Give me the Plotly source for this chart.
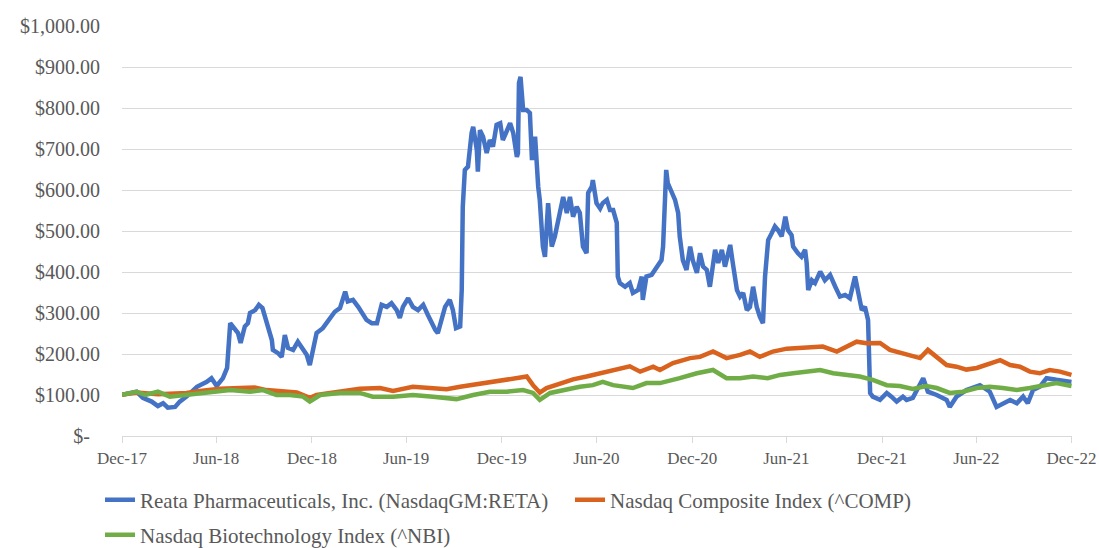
import plotly.graph_objects as go

# ---------------- data ----------------
reta_dates = [
    "2017-12-29","2018-01-28","2018-02-09","2018-02-26","2018-03-10","2018-03-20","2018-03-29",
    "2018-04-12","2018-04-21","2018-05-04","2018-05-24","2018-06-12","2018-06-21","2018-07-01",
    "2018-07-13","2018-07-21","2018-07-27","2018-08-05","2018-08-11","2018-08-16","2018-08-24",
    "2018-08-30","2018-09-03","2018-09-13","2018-09-20","2018-09-27","2018-10-05","2018-10-15",
    "2018-10-17","2018-10-27","2018-11-03","2018-11-09","2018-11-15","2018-11-25","2018-12-04",
    "2018-12-14","2018-12-21","2018-12-27","2019-01-02","2019-01-09","2019-01-21","2019-01-31",
    "2019-02-13","2019-02-23","2019-03-05","2019-03-10","2019-03-20","2019-03-30","2019-04-06",
    "2019-04-15","2019-04-25","2019-05-05","2019-05-14","2019-05-24","2019-06-02","2019-06-12",
    "2019-06-18","2019-06-24","2019-07-04","2019-07-13","2019-07-23","2019-08-02","2019-08-11",
    "2019-08-18","2019-08-25","2019-08-30","2019-09-06","2019-09-13","2019-09-22","2019-09-28",
    "2019-10-04","2019-10-12","2019-10-15","2019-10-17","2019-10-21","2019-10-27","2019-11-03",
    "2019-11-06","2019-11-13","2019-11-15","2019-11-19","2019-11-25","2019-12-02","2019-12-08",
    "2019-12-14","2019-12-21","2019-12-28","2020-01-02","2020-01-09","2020-01-16","2020-01-22",
    "2020-01-29","2020-01-31","2020-02-02","2020-02-05","2020-02-10","2020-02-17","2020-02-23",
    "2020-02-27","2020-03-04","2020-03-10","2020-03-13","2020-03-19","2020-03-23","2020-03-29",
    "2020-04-05","2020-04-11","2020-04-21","2020-04-27","2020-05-04","2020-05-10","2020-05-16",
    "2020-05-23","2020-05-29","2020-06-04","2020-06-11","2020-06-14","2020-06-21","2020-06-23",
    "2020-06-30","2020-07-07","2020-07-12","2020-07-20","2020-07-26","2020-08-01","2020-08-08",
    "2020-08-10","2020-08-14","2020-08-24","2020-09-02","2020-09-08","2020-09-18","2020-09-25",
    "2020-09-27","2020-10-04","2020-10-14","2020-10-20","2020-10-26","2020-11-02","2020-11-05",
    "2020-11-11","2020-11-14","2020-11-22","2020-11-28","2020-12-04","2020-12-07","2020-12-13",
    "2020-12-20","2020-12-27","2021-01-01","2021-01-09","2021-01-15","2021-01-21","2021-01-28",
    "2021-02-03","2021-02-13","2021-02-19","2021-02-26","2021-03-04","2021-03-14","2021-03-19",
    "2021-03-27","2021-04-02","2021-04-08","2021-04-15","2021-04-21","2021-04-27","2021-05-04",
    "2021-05-10","2021-05-16","2021-05-20","2021-05-26","2021-06-02","2021-06-08","2021-06-14",
    "2021-06-21","2021-06-28","2021-07-03","2021-07-10","2021-07-13","2021-07-22","2021-07-29",
    "2021-08-05","2021-08-08","2021-08-11","2021-08-18","2021-08-24","2021-09-03","2021-09-12",
    "2021-09-22","2021-10-02","2021-10-11","2021-10-21","2021-10-30","2021-11-09","2021-11-15",
    "2021-11-22","2021-11-28","2021-12-04","2021-12-08","2021-12-13","2021-12-27","2022-01-09",
    "2022-01-18","2022-01-28","2022-02-09","2022-02-16","2022-02-28","2022-03-14","2022-03-20",
    "2022-03-29","2022-04-15","2022-05-04","2022-05-10","2022-05-23","2022-06-11","2022-07-07",
    "2022-07-26","2022-08-08","2022-08-20","2022-09-03","2022-09-16","2022-09-28","2022-10-07",
    "2022-10-17","2022-10-30","2022-11-12","2022-12-01","2022-12-21","2022-12-30",
]
reta_values = [
    100, 108, 93, 84, 73, 80, 69,
    71, 84, 96, 120, 132, 141, 122,
    141, 166, 275, 259, 251, 227, 267,
    275, 300, 307, 320, 312, 275, 234,
    210, 202, 193, 246, 215, 210, 230,
    210, 198, 173, 206, 251, 263, 279,
    303, 312, 352, 328, 332, 315, 303,
    283, 275, 275, 320, 315, 324, 307,
    288, 315, 336, 315, 307, 320, 295,
    275, 259, 251, 283, 315, 332, 307,
    263, 267, 356, 559, 649, 657, 739,
    754, 698, 645, 746, 730, 690, 722,
    706, 759, 763, 722, 742, 763, 739,
    681, 690, 861, 876, 795, 795, 788,
    673, 730, 608, 576, 462, 437, 568,
    462, 487, 544, 583, 544, 583, 535,
    559, 544, 462, 446, 593, 608, 624,
    568, 555, 568, 576, 551, 551, 520,
    389, 373, 364, 373, 349, 356, 389,
    332, 389, 393, 405, 417, 429, 462,
    649, 617, 593, 576, 544, 487, 429,
    405, 462, 429, 398, 446, 413, 405,
    364, 454, 422, 454, 413, 466, 422,
    356, 340, 349, 307, 315, 364, 315,
    291, 275, 389, 478, 495, 511, 502,
    487, 535, 502, 490, 462, 446, 437,
    454, 422, 356, 380, 373, 401, 380,
    393, 364, 340, 344, 336, 389, 349,
    307, 315, 283, 105, 96, 88, 105,
    96, 84, 96, 88, 93, 129, 141,
    108, 100, 88, 71, 96, 112, 124,
    108, 71, 80, 88, 80, 96, 80,
    112, 120, 141, 137, 132, 132,
]

comp_dates = [
    "2017-12-29","2018-01-28","2018-03-10","2018-04-08","2018-05-04","2018-05-30","2018-07-07",
    "2018-08-15","2018-09-12","2018-10-05","2018-11-06","2018-12-02","2018-12-27","2019-01-09",
    "2019-02-04","2019-02-23","2019-04-02","2019-05-11","2019-06-05","2019-07-13","2019-08-21",
    "2019-09-16","2019-10-12","2019-11-06","2019-11-19","2019-12-08","2020-01-09","2020-02-04",
    "2020-02-17","2020-02-29","2020-03-13","2020-03-26","2020-04-21","2020-05-16","2020-06-11",
    "2020-07-07","2020-08-01","2020-09-02","2020-09-22","2020-10-17","2020-10-30","2020-11-24",
    "2020-12-27","2021-01-15","2021-02-09","2021-03-07","2021-04-02","2021-04-21","2021-05-10",
    "2021-06-04","2021-07-01","2021-07-26","2021-08-20","2021-09-08","2021-10-05","2021-11-12",
    "2021-12-01","2021-12-27","2022-01-15","2022-02-03","2022-02-22","2022-03-14","2022-03-29",
    "2022-04-15","2022-05-04","2022-05-23","2022-06-11","2022-07-01","2022-07-26","2022-08-15",
    "2022-09-03","2022-09-22","2022-10-11","2022-10-30","2022-11-18","2022-12-08","2022-12-30",
]
comp_values = [
    100, 106, 102, 103, 105, 110, 115,
    117, 118, 112, 108, 106, 93, 100,
    105, 108, 115, 117, 110, 120, 116,
    114, 120, 125, 126, 132, 137, 141,
    145, 124, 106, 117, 128, 138, 145,
    153, 161, 170, 157, 169, 161, 178,
    190, 193, 206, 190, 198, 206, 193,
    206, 213, 215, 215, 218, 206, 230,
    226, 227, 210, 203, 198, 190, 210,
    193, 173, 169, 162, 166, 178, 185,
    173, 169, 157, 153, 161, 157, 149,
]

nbi_dates = [
    "2017-12-29","2018-01-28","2018-02-14","2018-03-10","2018-04-02","2018-05-04","2018-06-18",
    "2018-07-27","2018-09-03","2018-09-28","2018-10-24","2018-11-19","2018-12-14","2018-12-27",
    "2019-01-16","2019-02-23","2019-04-02","2019-04-27","2019-06-05","2019-07-13","2019-08-21",
    "2019-10-05","2019-11-06","2019-12-08","2020-01-09","2020-02-10","2020-02-29","2020-03-13",
    "2020-04-02","2020-04-27","2020-05-29","2020-06-23","2020-07-12","2020-08-01","2020-09-08",
    "2020-10-04","2020-10-30","2020-12-07","2021-01-09","2021-02-09","2021-03-07","2021-04-02",
    "2021-04-27","2021-05-25","2021-06-18","2021-07-13","2021-08-08","2021-09-03","2021-09-28",
    "2021-10-24","2021-11-18","2021-12-13","2022-01-09","2022-02-03","2022-02-28","2022-03-26",
    "2022-04-15","2022-05-10","2022-06-04","2022-07-01","2022-07-26","2022-08-20","2022-09-16",
    "2022-10-11","2022-11-05","2022-12-01","2022-12-30",
]
nbi_values = [
    100, 108, 100, 108, 96, 100, 105,
    112, 108, 112, 100, 100, 96, 84,
    100, 105, 105, 96, 96, 100, 96,
    90, 100, 108, 108, 112, 105, 88,
    105, 112, 120, 124, 132, 124, 117,
    129, 129, 141, 153, 161, 141, 141,
    145, 141, 149, 153, 157, 161, 153,
    149, 145, 137, 124, 122, 115, 122,
    117, 105, 108, 117, 120, 117, 112,
    117, 124, 129, 122,
]

series_names = [
    "Reata Pharmaceuticals, Inc. (NasdaqGM:RETA)",
    "Nasdaq Composite Index (^COMP)",
    "Nasdaq Biotechnology Index (^NBI)",
]
series_colors = ["#4472C4", "#D9631E", "#70AD47"]

x_tick_vals = ["2017-12-31", "2018-06-30", "2018-12-31", "2019-06-30", "2019-12-31",
               "2020-06-30", "2020-12-31", "2021-06-30", "2021-12-31", "2022-06-30",
               "2022-12-30"]
x_tick_text = ["Dec-17", "Jun-18", "Dec-18", "Jun-19", "Dec-19", "Jun-20",
               "Dec-20", "Jun-21", "Dec-21", "Jun-22", "Dec-22"]
y_tick_vals = [0, 100, 200, 300, 400, 500, 600, 700, 800, 900, 1000]
y_tick_text = ["$-\u00a0\u00a0", "$100.00", "$200.00", "$300.00", "$400.00", "$500.00",
               "$600.00", "$700.00", "$800.00", "$900.00", "$1,000.00"]

# ---------------- figure ----------------
FONT = "Liberation Serif, Times New Roman, serif"
TEXT = "#595959"
GRID = "#D9D9D9"

# full window size; the page body margin is removed below
W, H = 1099, 548

fig = go.Figure()
legends = ["legend", "legend", "legend2"]
for xs, ys, name, color, lg in [
    (reta_dates, reta_values, series_names[0], series_colors[0], legends[0]),
    (comp_dates, comp_values, series_names[1], series_colors[1], legends[1]),
    (nbi_dates, nbi_values, series_names[2], series_colors[2], legends[2]),
]:
    fig.add_trace(go.Scatter(x=xs, y=ys, mode="lines", name=name, legend=lg,
                             line=dict(color=color, width=4.5)))

legend_common = dict(
    orientation="h", xref="container", yref="container",
    xanchor="left", yanchor="middle",
    font=dict(family=FONT, color=TEXT, size=21),
    bgcolor="rgba(0,0,0,0)",
)

fig.update_layout(
    width=W, height=H,
    margin=dict(l=122, r=27, t=26, b=112, autoexpand=False),
    paper_bgcolor="white", plot_bgcolor="white",
    font=dict(family=FONT, color=TEXT, size=19),
    showlegend=True,
    legend=dict(legend_common, x=100 / W, y=1 - 500 / H,
                entrywidth=425, entrywidthmode="pixels"),
    legend2=dict(legend_common, x=100 / W, y=1 - 535 / H),
    xaxis=dict(
        type="date", range=["2017-12-31", "2022-12-31"], automargin=False,
        tickmode="array", tickvals=x_tick_vals, ticktext=x_tick_text,
        showgrid=False, showline=True, linecolor=GRID, linewidth=1,
        ticks="outside", ticklen=6, tickcolor=GRID,
        ticklabelstandoff=1, zeroline=False,
        tickfont=dict(size=17, family=FONT, color=TEXT),
    ),
    yaxis=dict(
        range=[0, 1000], automargin=False,
        tickmode="array", tickvals=y_tick_vals, ticktext=y_tick_text,
        showgrid=True, gridcolor=GRID, gridwidth=1, zeroline=False,
        showline=False, ticks="", ticklabelstandoff=21,
        tickfont=dict(size=20, family=FONT, color=TEXT),
    ),
)

fig.write_html(
    "out.html",
    config={"displayModeBar": False},
    post_script="document.body.style.margin='0';"
                "document.documentElement.style.overflow='hidden';"
                "document.body.style.overflow='hidden';",
)
